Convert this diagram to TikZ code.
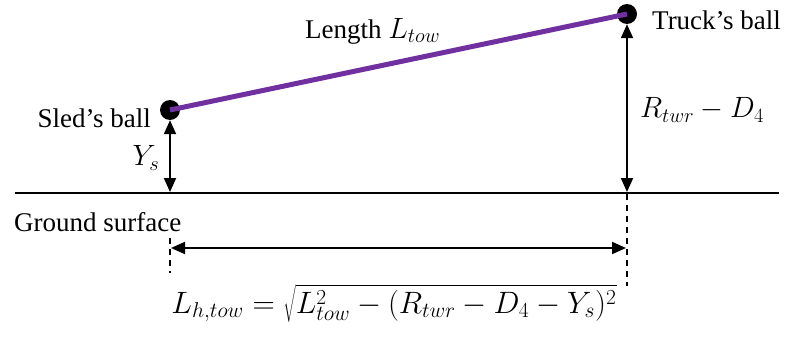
\documentclass[tikz,border=0pt]{standalone}
\usepackage{fontspec}
\setmainfont{Liberation Serif}
\usepackage{graphicx}
\usetikzlibrary{arrows.meta}
\newcommand{\mth}[1]{\scalebox{1.18}{$#1$}}
\begin{document}
\begin{tikzpicture}[x=1pt,y=-1pt,
  ball/.style={circle,fill=black,inner sep=0pt,minimum size=20pt},
  lbl/.style={inner sep=0pt,font=\fontsize{27}{32}\selectfont},
  dim/.style={line width=2pt,{Triangle[length=14pt,width=12pt]}-{Triangle[length=14pt,width=12pt]}},
  guide/.style={line width=1.5pt,dash pattern=on 6pt off 5pt},
  tow/.style={line width=5pt,color={rgb,255:red,112;green,48;blue,160}}]
\useasboundingbox (0,0) rectangle (796,345);
\node[ball] (sb) at (170,110) {};
\node[ball] (tb) at (627,14) {};
\draw[tow] (sb.center) -- (tb.center);
\coordinate (gl) at (15,193);
\coordinate (gr) at (779,193);
\draw[line width=1.5pt] (gl) -- (gr);
\coordinate (sg) at (170,192);
\coordinate (tg) at (627,192);
\draw[dim] (sb.south) -- (sg);
\draw[dim] (tb.south) -- (tg);
\coordinate (d1a) at (170,238);
\coordinate (d1b) at (170,273);
\coordinate (d2a) at (627,194);
\coordinate (d2b) at (627,286);
\draw[guide] (d1a) -- (d1b);
\draw[guide] (d2a) -- (d2b);
\coordinate (ha) at (171,248);
\coordinate (hb) at (626,248);
\draw[dim] (ha) -- (hb);
\node[lbl,anchor=east] (sl) at (151,118) {Sled's ball};
\node[lbl,anchor=west] (tl) at (652,20) {Truck's ball};
\node[lbl,anchor=west] (gs) at (14,222) {Ground surface};
\node[lbl,anchor=west] (len) at (305,31) {Length \mth{L_{tow}}};
\node[lbl] (ys) at (146,158) {\mth{Y_s}};
\node[lbl,anchor=west] (rd) at (640,110) {\mth{R_{twr}-D_4}};
\node[lbl] (eq) at (394,303) {\resizebox{445pt}{!}{$\displaystyle L_{h,tow}=\sqrt{\rule[-5pt]{0pt}{20pt}L_{tow}^2-(R_{twr}-D_4-Y_s)^2}$}};
\end{tikzpicture}
\end{document}
